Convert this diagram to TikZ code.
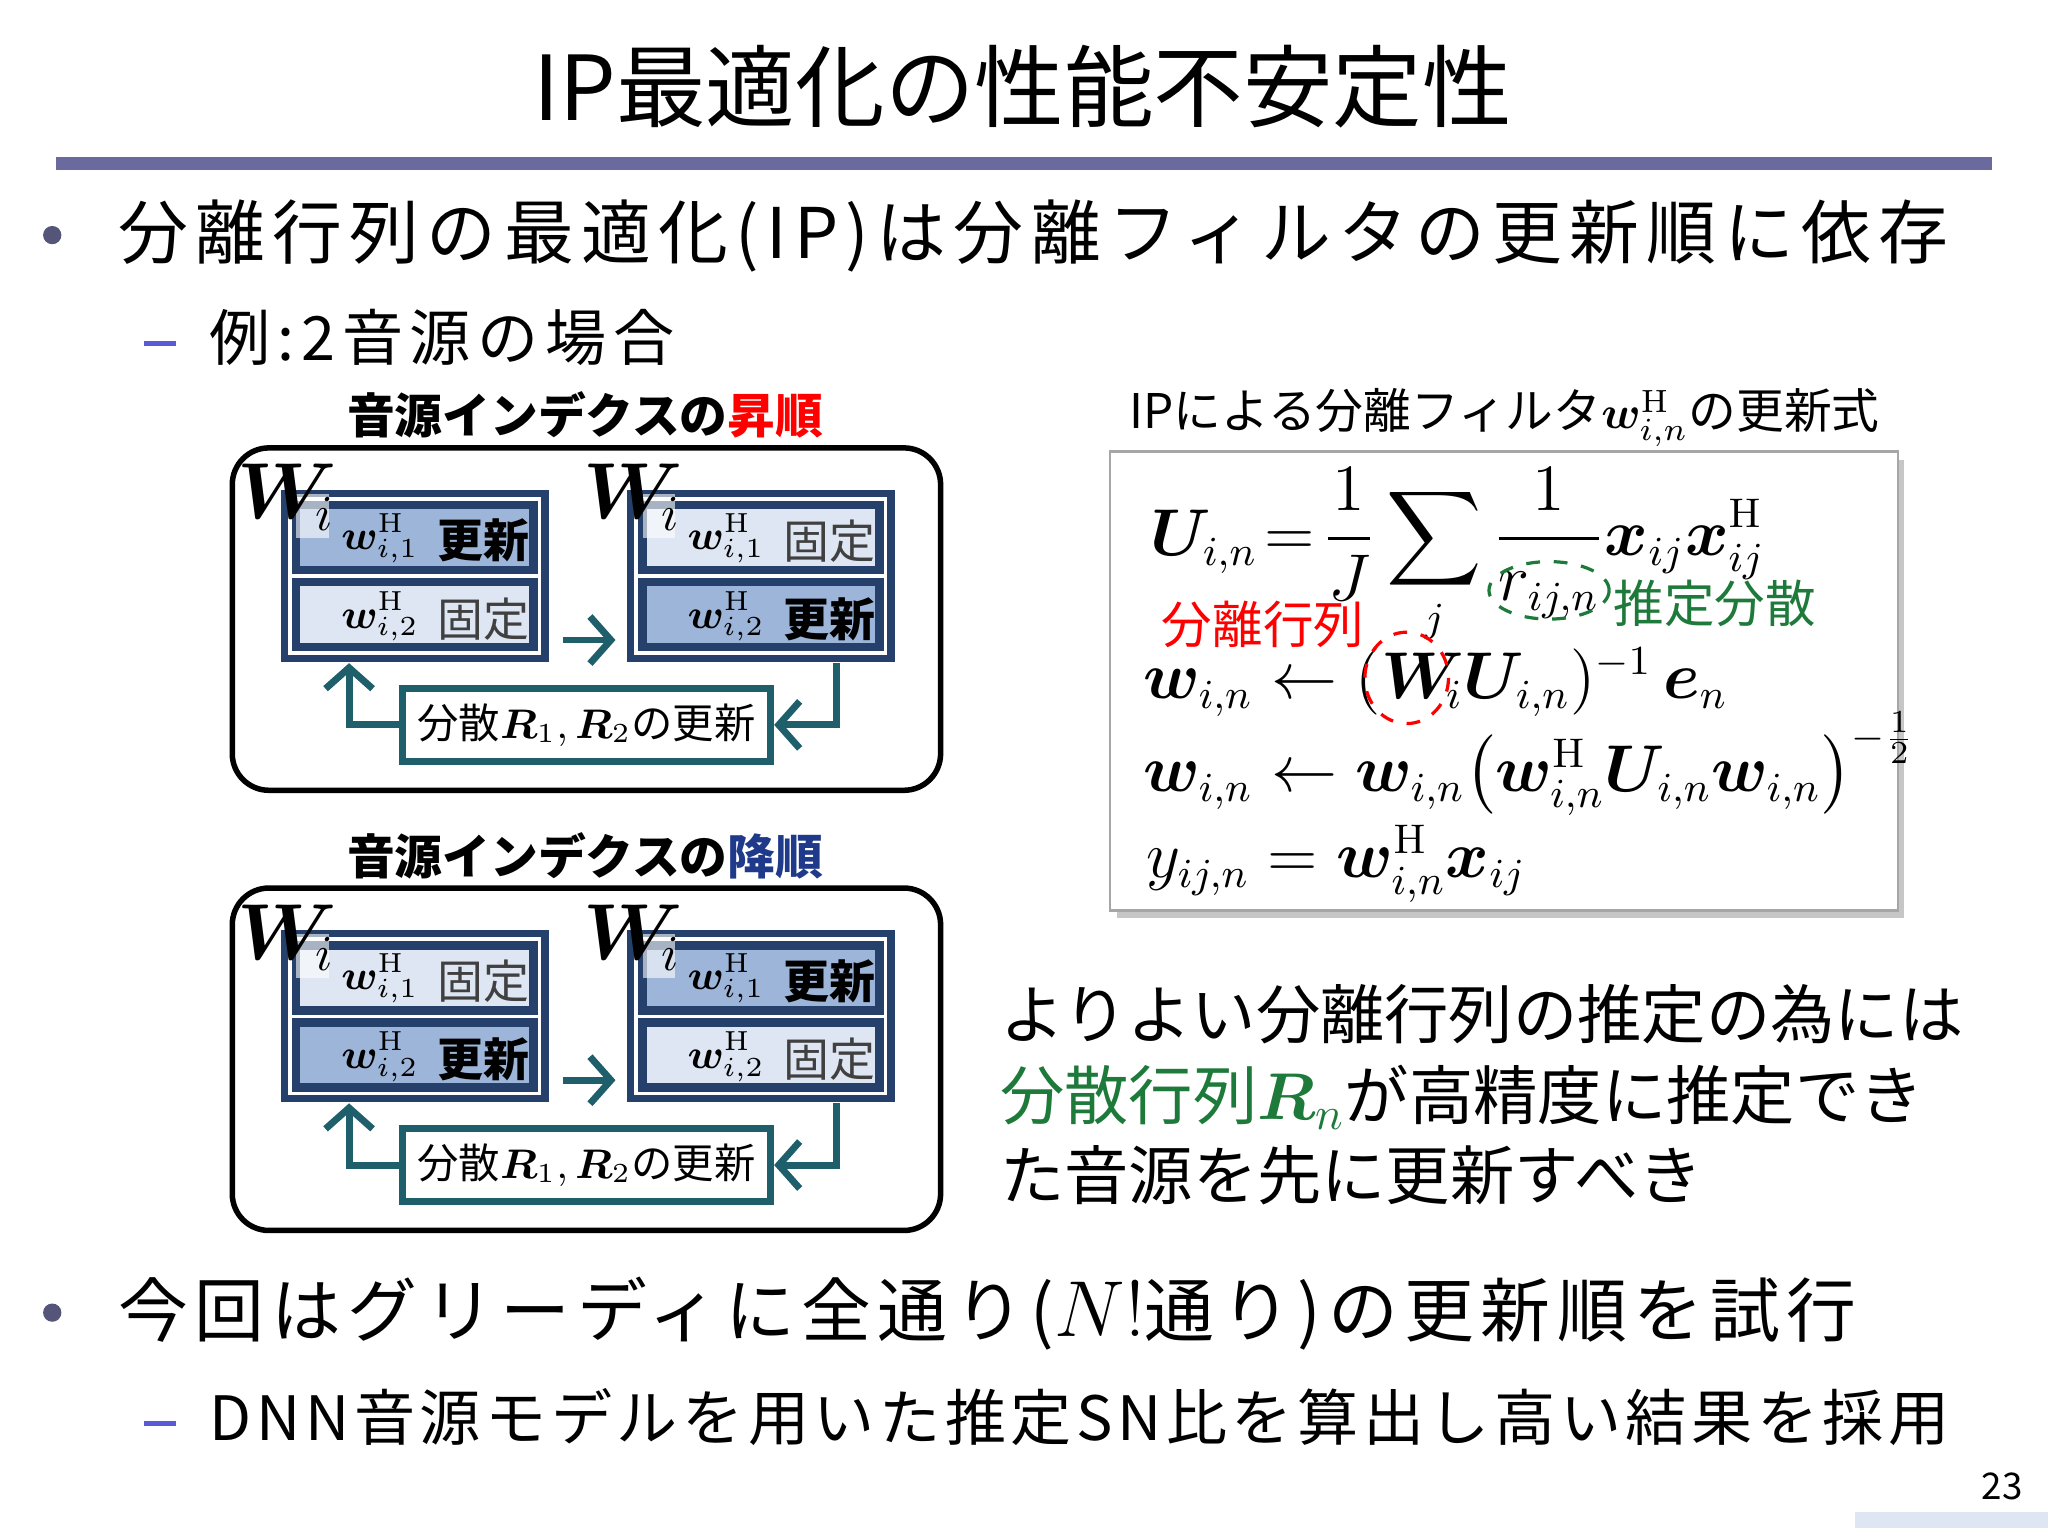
\documentclass[tikz,border=0pt]{standalone}
\usepackage{amsmath,bm}
\usepackage[no-math]{fontspec}
\setmainfont{Noto Sans CJK JP}
\usetikzlibrary{arrows.meta}
\definecolor{navy}{HTML}{25406A}
\definecolor{midb}{HTML}{9DB5D8}
\definecolor{lightb}{HTML}{DDE6F2}
\definecolor{tealc}{HTML}{1E5F6B}
\definecolor{rulec}{HTML}{6A6A9E}
\definecolor{dotc}{HTML}{55557A}
\definecolor{dashc}{HTML}{5A5AD8}
\definecolor{grn}{HTML}{1E7A3A}
\definecolor{fixg}{HTML}{404040}
\newcommand\fs[1]{\fontsize{#1}{1.2\dimexpr#1\relax}\selectfont}
\newcommand\UPD{\textbf{更新}}
\newcommand\FIX{\textcolor{fixg}{固定}}
\newcommand\HH{\mathrm{H}}
\tikzset{
  blk/.style={fill=navy,minimum width=2.05cm,minimum height=1.32cm,inner sep=0},
  conn/.style={draw=tealc,line width=1.5pt,-{Straight Barb[length=1.6mm,width=3.6mm]}},
  outer/.style={draw=black,line width=1.2pt,rounded corners=0.28cm,minimum width=5.42cm,minimum height=2.62cm},
  vbox/.style={draw=tealc,line width=1.5pt,fill=white,minimum width=2.82cm,minimum height=0.56cm,inner sep=1pt,font=\fs{9pt}},
  lbl/.style={font=\fs{10.4pt}\bfseries},
  eq/.style={anchor=base west,font=\fs{13.4pt},inner sep=0},
  body/.style={anchor=base west,inner sep=0},
}
% #1 name, #2 x, #3 y, #4 fill row1, #5 text row1, #6 fill row2, #7 text row2
\newcommand\Wblk[7]{%
  \node[blk] (#1) at (#2+102.5,#3+66) {};
  \begin{scope}[shift={(#2,#3)}]
    \draw[white,line width=0.7pt] (7,7) rectangle (198,125);
    \draw[white,line width=0.7pt] (7,66) -- (198,66);
    \fill[#4] (15,15) rectangle (190,58);
    \fill[#6] (15,74) rectangle (190,117);
    \fill[white,opacity=0.6] (12,3) rectangle (37,37);
    \node[font=\fs{16pt}] (#1W) at (4,6) {$\bm W_{\!i}$};
    \node[font=\fs{9pt}] (#1a) at (76,37) {$\bm w^{\HH}_{i,1}$};
    \node[font=\fs{9pt}] (#1b) at (76,97) {$\bm w^{\HH}_{i,2}$};
    \node[font=\fs{10pt}] (#1c) at (155,39) {#5};
    \node[font=\fs{10pt}] (#1d) at (155,99) {#7};
  \end{scope}}
% #1 prefix, #2 y offset
\newcommand\Panel[6]{%
  \node[outer] (#1O) at (449,#2+131) {};
  \Wblk{#1L}{215}{#2+32}{#3}{#4}{#5}{#6}
  \Wblk{#1R}{480}{#2+32}{#5}{#6}{#3}{#4}
  \node[vbox] (#1V) at (449,#2+212) {分散$\bm R_1,\bm R_2$の更新};
  \draw[conn] ([xshift=0.1cm,yshift=-0.49cm]#1L.east) -- ([xshift=-0.08cm,yshift=-0.49cm]#1R.west);
  \draw[conn] ([xshift=-0.45cm]#1R.south east) |- (#1V.east);
  \draw[conn] (#1V.west) -| ([xshift=0.53cm]#1L.south west);
}
\begin{document}
\begin{tikzpicture}[x=0.01cm,y=-0.01cm]
\useasboundingbox (0,0) rectangle (1568,1176);
\fill[white] (0,0) rectangle (1568,1176);
% title
\node[font=\fs{19.5pt}] (title) at (783,66) {IP最適化の性能不安定性};
\fill[rulec] (43,120) rectangle (1525,130);
% bullets
\node[circle,fill=dotc,inner sep=0,minimum size=0.14cm] (d1) at (40,180) {};
\node[body,font=\fs{15.2pt}\addfontfeature{LetterSpace=10.5}] (b1) at (90,198) {分離行列の最適化(IP)は分離フィルタの更新順に依存};
\draw[dashc,line width=1.2pt] (110,263) -- (135,263);
\node[body,font=\fs{13.3pt}\addfontfeature{LetterSpace=11}] (s1) at (160,276) {例:2音源の場合};
% panels
\node[lbl] (t1) at (448,318) {音源インデクスの\textcolor{red}{昇順}};
\Panel{A}{343}{midb}{\UPD}{lightb}{\FIX}
\node[lbl] (t2) at (448,655) {音源インデクスの\textcolor[HTML]{1F3A8A}{降順}};
\Panel{B}{680}{lightb}{\FIX}{midb}{\UPD}
% equations
\node[font=\fs{10.4pt}] (eqt) at (1152,320) {IPによる分離フィルタ$\bm w^{\HH}_{i,n}$の更新式};
\fill[gray!45] (855,352) rectangle (1458,703);
\node[draw=gray!70,line width=0.6pt,fill=white,minimum width=6.03cm,minimum height=3.51cm] (EQ) at (1151.5,521.5) {};
\node[eq] (e1) at (880,425) {$\bm U_{i,n} \mkern-3mu=\mkern-3mu \dfrac{1}{J}\displaystyle\sum_j \frac{1}{r_{ij,n}}\bm x_{ij}\bm x_{ij}^{\HH}$};
\node[eq] (e2) at (875,535) {$\bm w_{i,n} \leftarrow (\bm W_{\!i}\bm U_{i,n})^{-1}\,\bm e_n$};
\node[eq] (e3) at (875,606) {$\bm w_{i,n}\leftarrow \bm w_{i,n}\bigl(\bm w_{i,n}^{\HH}\bm U_{i,n}\bm w_{i,n}\bigr)^{-\frac12}$};
\node[eq] (e4) at (877,672) {$y_{ij,n} = \bm w_{i,n}^{\HH}\bm x_{ij}$};
\node[font=\fs{11pt},text=red] (redl) at (967,478) {分離行列};
\node[font=\fs{11pt},text=grn] (grnl) at (1313,462) {推定分散};
\draw[grn,dashed,line width=0.7pt] (1186,452) ellipse [x radius=46,y radius=22];
\draw[red,dashed,line width=0.7pt] (1077,519) ellipse [x radius=32,y radius=35];
% right text
\node[body,font=\fs{14pt}] (r1) at (765,795) {よりよい分離行列の推定の為には};
\node[body,font=\fs{14pt}] (r2) at (765,857) {\textcolor{grn}{分散行列$\bm R_n$}が高精度に推定でき};
\node[body,font=\fs{14pt}] (r3) at (765,918) {た音源を先に更新すべき};
% bullet 2
\node[circle,fill=dotc,inner sep=0,minimum size=0.14cm] (d2) at (40,1005) {};
\node[body,font=\fs{15.2pt}\addfontfeature{LetterSpace=9.5}] (b2) at (90,1023) {今回はグリーディに全通り({\fs{17pt}$N!$}通り)の更新順を試行};
\draw[dashc,line width=1.2pt] (110,1090) -- (135,1090);
\node[body,font=\fs{13.3pt}\addfontfeature{LetterSpace=7.5}] (s2) at (160,1103) {DNN音源モデルを用いた推定SN比を算出し高い結果を採用};
% page
\node[font=\fs{8pt}] (pg) at (1533,1138) {23};
\fill[lightb] (1420,1158) rectangle (1568,1170);
\end{tikzpicture}
\end{document}
